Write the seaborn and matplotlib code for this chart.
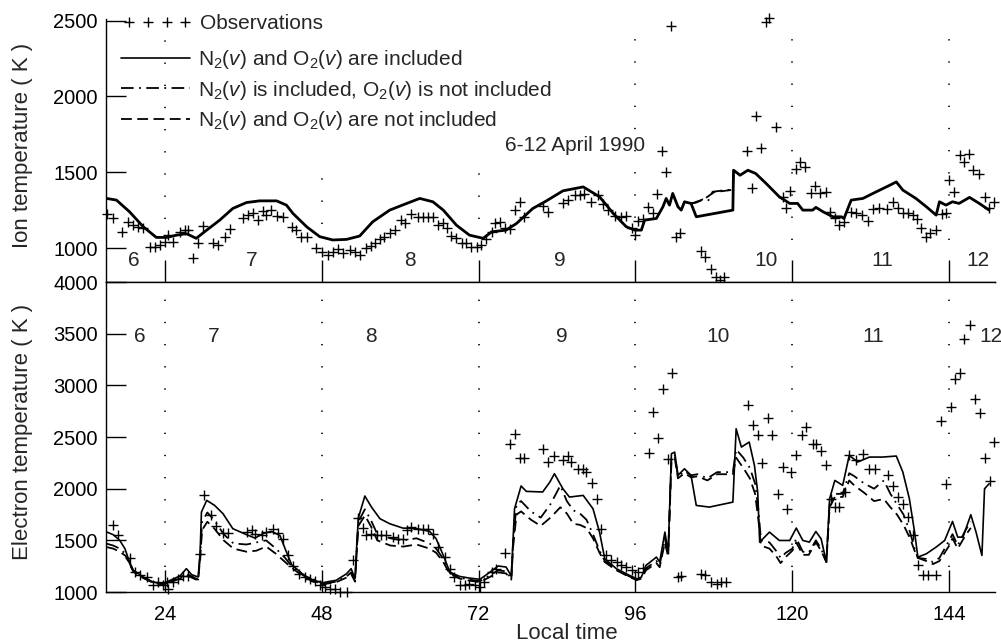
import matplotlib
matplotlib.use("Agg")
import matplotlib.pyplot as plt
import seaborn as sns

# ---------------- data ----------------
# Ion temperature, top panel
ti_obs_h = [
    15.1, 16.1, 17.4, 18.4, 19.2, 19.9, 20.7, 21.7, 22.5, 23.2,
    24.0, 24.5, 25.3, 26.3, 27.1, 27.6, 28.3, 29.1, 29.9, 31.4,
    32.2, 33.2, 34.0, 36.0, 36.7, 37.5, 38.3, 39.0, 39.5, 40.3,
    41.1, 42.1, 43.4, 44.1, 44.9, 45.7, 47.2, 48.0, 49.0, 49.7,
    50.5, 51.3, 52.3, 53.1, 53.8, 54.8, 55.6, 56.1, 56.9, 57.6,
    58.4, 59.2, 60.2, 60.7, 61.7, 62.7, 63.5, 64.3, 65.0, 65.8,
    66.6, 67.1, 67.8, 68.6, 69.4, 70.1, 70.9, 71.7, 72.4, 73.2,
    74.0, 74.5, 75.2, 76.0, 76.8, 77.5, 78.3, 79.0, 81.8, 82.6,
    84.9, 85.7, 86.7, 87.5, 88.2, 89.2, 90.3, 91.0, 91.8, 92.8,
    93.8, 94.6, 95.4, 95.9, 96.4, 97.1, 97.9, 98.7, 99.3, 100.0,
    100.7, 101.5, 102.2, 102.8, 106.1, 106.6, 107.6, 108.3, 108.9, 109.6,
    113.0, 113.9, 114.5, 115.2, 116.0, 116.5, 117.5, 118.5, 119.1, 119.7,
    120.6, 121.2, 122.0, 122.9, 123.5, 124.3, 125.1, 125.8, 126.5, 127.2,
    127.9, 129.0, 129.8, 130.7, 131.5, 132.3, 133.3, 134.5, 135.4, 136.1,
    136.9, 137.7, 138.4, 139.1, 139.7, 140.5, 141.0, 141.9, 142.9, 143.5,
    144.0, 144.8, 145.7, 146.3, 147.0, 147.7, 148.6, 149.4, 150.1, 150.8]
ti_obs = [
    1224, 1195, 1108, 1173, 1151, 1136, 1129, 1004, 1004, 1020,
    1042, 1086, 1042, 1108, 1119, 1119, 932, 1031, 1145, 1031,
    1020, 1075, 1123, 1195, 1217, 1228, 1184, 1243, 1217, 1250,
    1211, 1206, 1140, 1119, 1075, 1075, 998, 976, 954, 976,
    991, 965, 987, 976, 954, 998, 1013, 1031, 1057, 1070,
    1097, 1119, 1184, 1167, 1224, 1206, 1206, 1206, 1206, 1151,
    1167, 1129, 1079, 1064, 1035, 1035, 1009, 1004, 1020, 1057,
    1108, 1162, 1173, 1129, 1123, 1250, 1305, 1206, 1276, 1239,
    1298, 1316, 1349, 1349, 1356, 1305, 1349, 1290, 1250, 1211,
    1202, 1211, 1130, 1086, 1180, 1191, 1272, 1228, 1353, 1641,
    1498, 2461, 1070, 1097, 982, 943, 860, 807, 790, 807,
    1641, 1397, 1869, 1662, 2489, 2518, 1799, 1338, 1261, 1377,
    1518, 1564, 1535, 1364, 1410, 1364, 1371, 1235, 1195, 1151,
    1173, 1239, 1228, 1217, 1180, 1255, 1261, 1255, 1305, 1261,
    1233, 1228, 1217, 1189, 1130, 1070, 1097, 1119, 1224, 1228,
    1448, 1371, 1612, 1568, 1619, 1513, 1487, 1338, 1261, 1305]

ti_full_h = [
    15.1, 16.6, 18.6, 20.7, 22.7, 24.3, 25.8, 27.3, 28.8, 30.4,
    32.4, 34.4, 36.5, 38.5, 41.1, 42.6, 43.6, 45.7, 47.7, 49.7,
    51.8, 53.8, 55.8, 58.4, 61.0, 63.0, 65.0, 66.6, 68.6, 70.6,
    72.7, 74.0, 76.2, 77.8, 80.3, 82.3, 84.9, 88.0, 90.5, 92.6,
    94.6, 95.9, 96.9, 97.4, 99.2, 100.2, 100.7, 101.2, 101.7, 102.5,
    103.0, 103.5, 104.5, 105.3, 110.9, 111.0, 112.0, 113.2, 114.4, 116.0,
    118.0, 119.6, 120.8, 121.6, 123.1, 123.6, 124.7, 126.2, 127.5, 127.9,
    129.0, 130.8, 132.8, 134.9, 135.9, 136.9, 138.9, 140.5, 142.0, 142.5,
    143.5, 144.5, 145.5, 147.1, 148.6, 150.1]
ti_full = [
    1327, 1316, 1239, 1140, 1070, 1070, 1085, 1095, 1064, 1118,
    1184, 1261, 1300, 1311, 1311, 1283, 1228, 1140, 1075, 1053,
    1057, 1079, 1173, 1250, 1294, 1327, 1305, 1250, 1151, 1085,
    1064, 1107, 1118, 1162, 1261, 1309, 1377, 1403, 1338, 1228,
    1140, 1118, 1118, 1184, 1195, 1272, 1327, 1283, 1360, 1272,
    1250, 1305, 1294, 1206, 1250, 1513, 1480, 1513, 1491, 1425,
    1338, 1294, 1294, 1250, 1250, 1268, 1239, 1206, 1206, 1195,
    1316, 1327, 1370, 1414, 1436, 1382, 1327, 1272, 1217, 1305,
    1283, 1305, 1294, 1334, 1294, 1250]
# where the other two runs separate from the full run (10 April)
ti_n2_h = [104.5, 105.0, 106.3, 107.1, 107.8, 109.5, 110.9, 111.0, 112.0]
ti_n2 = [1294, 1300, 1320, 1310, 1371, 1380, 1386, 1513, 1480]
ti_none_h = [104.5, 105.2, 106.5, 108.0, 110.9, 111.0, 112.0]
ti_none = [1294, 1298, 1322, 1368, 1384, 1513, 1480]

# Electron temperature, bottom panel
te_obs_h = [
    16.1, 16.9, 18.6, 19.4, 20.2, 21.2, 22.2, 23.0, 23.7, 24.3,
    24.5, 25.3, 26.0, 26.8, 27.6, 29.4, 30.0, 31.1, 31.9, 32.9,
    33.7, 36.5, 37.3, 37.8, 38.8, 39.5, 40.6, 41.3, 42.1, 42.9,
    43.6, 44.6, 45.4, 46.2, 46.9, 47.7, 48.5, 49.2, 50.0, 50.8,
    51.8, 52.8, 53.6, 54.3, 54.8, 55.6, 56.4, 57.1, 57.9, 58.9,
    59.7, 60.4, 61.0, 61.7, 62.7, 63.5, 64.3, 65.0, 65.8, 66.8,
    67.6, 68.3, 69.1, 69.9, 70.6, 71.4, 72.2, 72.9, 74.0, 74.7,
    76.0, 76.8, 77.5, 78.3, 79.0, 81.8, 82.6, 83.6, 84.9, 85.7,
    86.2, 87.2, 88.0, 88.5, 89.4, 90.1, 90.8, 91.5, 92.3, 93.1,
    93.8, 94.6, 95.4, 96.4, 97.1, 98.0, 98.7, 99.4, 100.2, 101.0,
    101.6, 102.5, 103.0, 106.1, 106.6, 107.6, 108.4, 109.1, 109.9, 113.2,
    114.0, 114.7, 115.4, 116.3, 116.9, 117.8, 118.5, 119.2, 119.8, 120.6,
    121.5, 122.1, 123.1, 123.6, 124.4, 125.1, 125.9, 126.6, 127.2, 128.0,
    128.7, 129.8, 130.8, 131.7, 132.7, 134.6, 135.4, 136.1, 136.9, 137.7,
    138.4, 139.2, 140.0, 140.7, 142.0, 142.8, 143.5, 144.2, 144.9, 145.6,
    146.3, 147.1, 147.9, 148.7, 149.5, 150.2, 150.9]
te_obs = [
    1652, 1548, 1329, 1193, 1161, 1145, 1071, 1097, 1065, 1097,
    1032, 1097, 1122, 1155, 1155, 1371, 1942, 1748, 1639, 1574,
    1574, 1581, 1597, 1565, 1548, 1581, 1613, 1574, 1516, 1355,
    1252, 1177, 1145, 1122, 1103, 1065, 1048, 1032, 1032, 1005,
    1005, 1306, 1716, 1619, 1555, 1565, 1548, 1548, 1548, 1532,
    1510, 1510, 1597, 1629, 1607, 1607, 1607, 1565, 1435, 1339,
    1226, 1145, 1071, 1071, 1081, 1071, 1048, 1097, 1193, 1226,
    1381, 2436, 2532, 2297, 2297, 2387, 2258, 2316, 2274, 2316,
    2258, 2193, 2193, 2161, 2058, 1903, 1612, 1354, 1306, 1290,
    1257, 1241, 1209, 1193, 1232, 2345, 2742, 2493, 2968, 2284,
    3119, 1144, 1154, 1177, 1161, 1096, 1080, 1096, 1096, 2806,
    2613, 2522, 2251, 2684, 2516, 1951, 2209, 1800, 2161, 2329,
    2522, 2596, 2435, 2435, 2361, 2225, 1903, 1822, 1822, 1967,
    2329, 2274, 2338, 2193, 2193, 2135, 2025, 1919, 1854, 1725,
    1548, 1264, 1167, 1161, 1167, 2651, 2048, 2790, 3058, 3123,
    3445, 3581, 2864, 2735, 2296, 2070, 2451]

te_full_h = [
    15.1, 16.1, 17.1, 17.9, 18.6, 19.2, 20.7, 22.2, 23.7, 24.8,
    26.3, 27.3, 28.1, 29.1, 29.4, 29.6, 30.4, 31.6, 32.9, 34.4,
    36.5, 37.8, 39.0, 40.3, 41.6, 42.4, 43.4, 45.2, 46.7, 48.2,
    49.2, 50.2, 51.8, 52.5, 53.1, 53.3, 53.6, 54.6, 55.6, 56.9,
    58.4, 60.4, 62.5, 64.5, 65.5, 66.6, 67.6, 69.1, 70.6, 72.2,
    73.4, 75.0, 76.2, 77.0, 77.5, 78.5, 79.3, 81.8, 82.9, 83.6,
    84.9, 85.9, 88.0, 89.5, 90.5, 91.3, 93.1, 95.1, 96.2, 96.9,
    97.6, 99.2, 99.7, 100.5, 101.0, 101.5, 102.0, 102.5, 103.5, 104.5,
    105.3, 107.3, 110.9, 111.4, 112.2, 113.4, 114.2, 114.7, 115.0, 116.5,
    118.0, 119.6, 120.6, 121.6, 122.6, 123.6, 124.4, 125.2, 125.7, 126.5,
    127.7, 128.7, 130.0, 131.8, 133.8, 135.9, 136.9, 137.9, 138.7, 139.2,
    140.5, 142.0, 143.3, 144.5, 145.3, 146.1, 147.3, 148.1, 149.0, 149.4,
    150.1]
te_full = [
    1581, 1555, 1500, 1419, 1290, 1210, 1145, 1097, 1081, 1113,
    1155, 1226, 1168, 1145, 1387, 1774, 1887, 1839, 1758, 1613,
    1555, 1522, 1565, 1587, 1548, 1419, 1265, 1168, 1113, 1090,
    1103, 1113, 1177, 1226, 1129, 1387, 1716, 1929, 1823, 1710,
    1661, 1619, 1613, 1587, 1516, 1355, 1193, 1151, 1135, 1123,
    1177, 1252, 1242, 1155, 1806, 2026, 1974, 1968, 2064, 2145,
    1999, 1919, 1935, 1806, 1580, 1322, 1225, 1161, 1128, 1144,
    1257, 1338, 1290, 1580, 1386, 2338, 2354, 2129, 2193, 2129,
    1838, 1822, 1870, 2580, 2403, 2451, 2225, 1967, 1483, 1580,
    1499, 1499, 1619, 1499, 1483, 1586, 1515, 1290, 1903, 2080,
    2032, 2322, 2258, 2306, 2306, 2316, 2161, 1903, 1580, 1338,
    1370, 1435, 1499, 1683, 1531, 1531, 1748, 1580, 1354, 1999,
    2048]

te_mod_h = [
    15.1, 16.1, 17.1, 18.0, 18.6, 19.2, 20.7, 22.2, 23.7, 24.8,
    26.3, 27.3, 28.1, 29.1, 29.4, 29.7, 30.5, 31.5, 33.0, 34.5,
    36.5, 38.0, 39.5, 41.0, 42.4, 43.4, 45.2, 46.7, 48.2, 49.2,
    50.2, 51.8, 52.5, 53.1, 53.3, 53.6, 54.6, 55.5, 56.5, 58.5,
    60.5, 62.5, 64.5, 65.5, 66.6, 67.6, 69.1, 70.6, 72.2, 73.4,
    75.0, 76.2, 77.0, 77.3, 77.8, 78.5, 80.0, 81.5, 83.0, 84.5,
    85.5, 86.5, 87.5, 88.5, 89.5, 90.5, 91.3, 93.1, 95.1, 96.2,
    96.9, 97.6, 99.2, 99.7, 100.5, 101.0, 101.5, 102.0, 102.5, 103.5,
    104.5, 105.5, 107.0, 108.5, 110.9, 111.4, 112.5, 113.5, 114.3, 114.8,
    115.2, 116.5, 117.5, 118.2, 119.0, 120.0, 120.6, 121.6, 122.5, 123.6,
    124.4, 125.2, 125.7, 126.5, 127.7, 128.7, 129.5, 131.0, 132.5, 134.0,
    135.0, 136.0, 137.0, 138.0, 138.7, 139.2, 140.5, 141.5, 142.5, 143.3,
    144.0, 144.5, 145.3, 146.5, 147.3]
te_n2 = [
    1468, 1450, 1420, 1370, 1280, 1200, 1140, 1092, 1075, 1100,
    1140, 1180, 1150, 1120, 1350, 1680, 1770, 1700, 1560, 1470,
    1460, 1480, 1500, 1420, 1330, 1250, 1160, 1105, 1080, 1090,
    1100, 1150, 1190, 1110, 1350, 1680, 1800, 1700, 1560, 1520,
    1500, 1520, 1470, 1420, 1320, 1185, 1140, 1120, 1105, 1150,
    1210, 1200, 1130, 1500, 1850, 1880, 1780, 1720, 1850, 2030,
    1880, 1790, 1760, 1700, 1560, 1400, 1300, 1215, 1150, 1120,
    1135, 1230, 1300, 1260, 1520, 1360, 2300, 2330, 2120, 2170,
    2130, 2140, 2100, 2160, 2160, 2380, 2300, 2200, 2050, 1800,
    1500, 1480, 1400, 1330, 1380, 1420, 1520, 1390, 1380, 1500,
    1420, 1290, 1850, 1950, 1950, 2150, 2120, 2050, 2000, 2080,
    1950, 1850, 1750, 1580, 1420, 1330, 1320, 1290, 1330, 1420,
    1500, 1560, 1450, 1600, 1680]
te_none = [
    1435, 1420, 1390, 1350, 1270, 1195, 1135, 1090, 1072, 1095,
    1130, 1165, 1140, 1110, 1330, 1600, 1680, 1620, 1500, 1420,
    1390, 1400, 1440, 1370, 1290, 1235, 1150, 1100, 1075, 1085,
    1095, 1140, 1175, 1100, 1320, 1640, 1740, 1640, 1500, 1450,
    1440, 1460, 1420, 1380, 1290, 1175, 1130, 1110, 1095, 1135,
    1190, 1180, 1120, 1450, 1750, 1780, 1700, 1640, 1720, 1820,
    1760, 1660, 1650, 1620, 1520, 1380, 1290, 1210, 1145, 1115,
    1130, 1210, 1280, 1240, 1480, 1340, 2260, 2300, 2100, 2150,
    2110, 2120, 2080, 2140, 2140, 2300, 2200, 2100, 1950, 1700,
    1450, 1420, 1350, 1280, 1340, 1400, 1480, 1360, 1360, 1480,
    1400, 1290, 1820, 1920, 1920, 2080, 2030, 1960, 1880, 1900,
    1820, 1750, 1650, 1520, 1400, 1330, 1300, 1270, 1300, 1380,
    1450, 1520, 1420, 1550, 1620]

day_names = ["6", "7", "8", "9", "10", "11", "12"]
ti_day_x = [19.2, 37.3, 61.5, 84.4, 116.0, 133.8, 148.4]
te_day_x = [20.2, 31.4, 55.6, 84.7, 108.6, 132.3, 150.4]
day_bounds = [24, 48, 72, 96, 120, 144]
ti_ticks = [1000, 1500, 2000, 2500]
te_ticks = [1000, 1500, 2000, 2500, 3000, 3500, 4000]

LBL_OBS = "Observations"
LBL_FULL = r"N$_2$($v$) and O$_2$($v$) are included"
LBL_N2 = r"N$_2$($v$) is included, O$_2$($v$) is not included"
LBL_NONE = r"N$_2$($v$) and O$_2$($v$) are not included"

# ---------------- style ----------------
sns.set_theme(style="ticks")
plt.rcParams["font.family"] = ["Liberation Sans", "DejaVu Sans"]
plt.rcParams["mathtext.fontset"] = "custom"
plt.rcParams["mathtext.rm"] = "Liberation Sans"
plt.rcParams["mathtext.it"] = "Liberation Sans:italic"
plt.rcParams["axes.linewidth"] = 1.0
plt.rcParams["axes.edgecolor"] = "black"

DASHDOT = (0, (7, 3, 1, 3))
DASHED = (0, (6, 3))
DOTTED = (0, (0.8, 12.5))
FS_TICK = 14.5
FS_TEXT = 15
FS_LABEL = 16

fig = plt.figure(figsize=(10.01, 6.44), dpi=100)
ax1 = fig.add_axes([0.1059, 0.5621, 0.8881, 0.4084])
ax2 = fig.add_axes([0.1059, 0.0807, 0.8881, 0.4814])

common = dict(color="black", estimator=None, sort=False, legend=False)

# top panel
sns.lineplot(x=ti_n2_h, y=ti_n2, ax=ax1, linestyle=DASHDOT, linewidth=1.3, **common)
sns.lineplot(x=ti_none_h, y=ti_none, ax=ax1, linestyle=DASHED, linewidth=1.3, **common)
sns.lineplot(x=ti_full_h, y=ti_full, ax=ax1, linewidth=2.0, **common)
sns.scatterplot(x=ti_obs_h, y=ti_obs, ax=ax1, marker="+", s=50, color="black",
                linewidth=1.0, legend=False, clip_on=False, zorder=3)

# bottom panel
sns.lineplot(x=te_mod_h, y=te_n2, ax=ax2, linestyle=DASHDOT, linewidth=1.3,
             label=LBL_N2, **common)
sns.lineplot(x=te_mod_h, y=te_none, ax=ax2, linestyle=DASHED, linewidth=1.3,
             label=LBL_NONE, **common)
sns.lineplot(x=te_full_h, y=te_full, ax=ax2, linewidth=1.2, label=LBL_FULL, **common)
sns.scatterplot(x=te_obs_h, y=te_obs, ax=ax2, marker="+", s=50, color="black",
                linewidth=1.0, legend=False, clip_on=False, zorder=3, label=LBL_OBS)

# axes limits / spines
for ax in (ax1, ax2):
    ax.set_xlim(15, 151)
    ax.spines["right"].set_visible(False)
    ax.set_xticks(day_bounds)
    ax.tick_params(axis="x", direction="in", length=16, width=1.0, colors="black",
                   labelsize=FS_TICK, pad=9.0)
    ax.tick_params(axis="y", direction="in", length=14.4, width=1.0, colors="black",
                   labelsize=FS_TICK, pad=6.0)
    ax.set_xlabel("")
    ax.set_ylabel("")
ax1.spines["top"].set_visible(False)
ax1.set_ylim(776, 2510)
ax1.set_yticks(ti_ticks)
ax1.tick_params(axis="x", labelbottom=False)
ax2.set_ylim(1000, 4000)
ax2.set_yticks(te_ticks)
ax2.set_xticklabels([str(b) for b in day_bounds])

# dotted day boundaries
top_spans = {24: (0.24, 0.96), 48: (0.22, 0.42), 72: (0.24, 0.48),
             96: (0.16, 0.95), 120: (0.16, 0.95), 144: (0.16, 0.95)}
for b in day_bounds:
    lo, hi = top_spans[b]
    ax1.axvline(b, ymin=lo, ymax=hi, color="black", linewidth=1.2, linestyle=DOTTED)
    ax2.axvline(b, ymin=0.08, ymax=0.95, color="black", linewidth=1.2, linestyle=DOTTED)

# day numbers
for d, x in zip(day_names, ti_day_x):
    ax1.text(x, 921, d, ha="center", va="center", fontsize=FS_TEXT)
for d, x in zip(day_names, te_day_x):
    ax2.text(x, 3469, d, ha="center", va="center", fontsize=FS_TEXT)

ax1.text(86.8, 1678, "6-12 April 1990", ha="center", va="center", fontsize=FS_TEXT)

# labels
ax1.set_ylabel("Ion temperature ( K )", fontsize=FS_LABEL)
ax1.yaxis.set_label_coords(-0.082, 0.52)
ax2.set_ylabel("Electron temperature ( K )", fontsize=FS_LABEL)
ax2.yaxis.set_label_coords(-0.082, 0.516)
ax2.set_xlabel("Local time", fontsize=FS_LABEL)
ax2.xaxis.set_label_coords(0.5186, -0.10)

# legends (in top panel): observations row, then the three model rows
handles, labels = ax2.get_legend_handles_labels()
lookup = dict(zip(labels, handles))
leg_obs = ax1.legend([lookup[LBL_OBS]], [LBL_OBS], loc="center left",
                     bbox_to_anchor=(0.019, 0.981), frameon=False, fontsize=FS_TEXT,
                     handlelength=3.3, handletextpad=0.4, borderpad=0,
                     borderaxespad=0, scatterpoints=4, scatteryoffsets=[0.5])
ax1.add_artist(leg_obs)
model_order = [LBL_FULL, LBL_N2, LBL_NONE]
ax1.legend([lookup[k] for k in model_order], model_order, loc="center left",
           bbox_to_anchor=(0.017, 0.730), frameon=False, fontsize=FS_TEXT,
           handlelength=3.3, handletextpad=0.4, labelspacing=0.35,
           borderpad=0, borderaxespad=0)

fig.savefig("out.png", dpi=100)
